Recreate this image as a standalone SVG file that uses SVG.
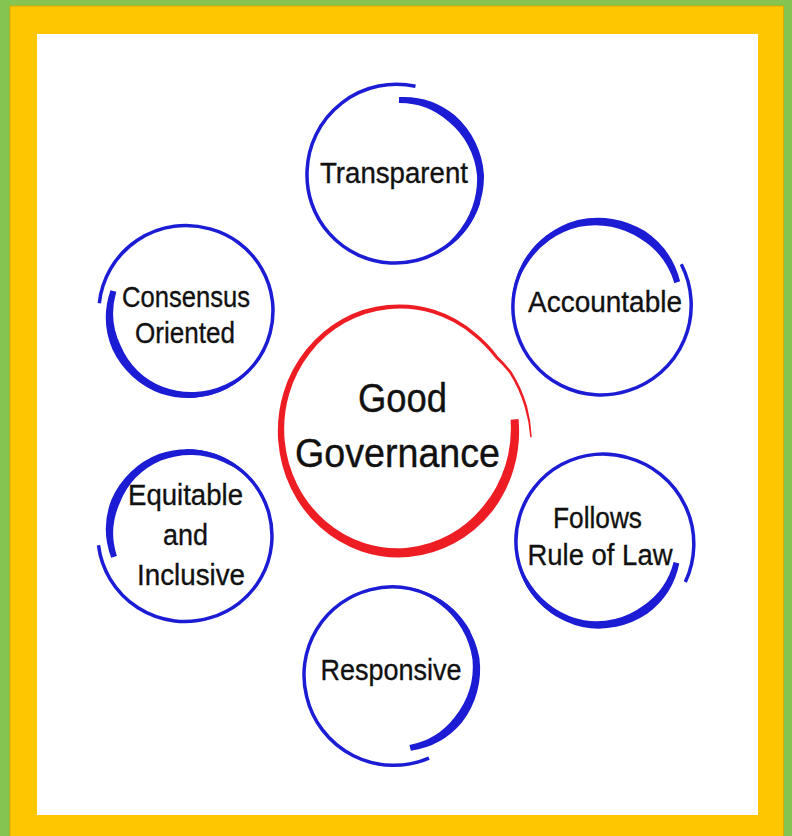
<svg xmlns="http://www.w3.org/2000/svg" width="792" height="836" viewBox="0 0 792 836">
<style>
.ring{fill:none;stroke:#1c1cd4;stroke-width:3.5}
.brush{fill:#1c1cd4}
.redb{fill:#ee1d23}
.lbl{font-family:"Liberation Sans",Arial,Helvetica,sans-serif;font-size:30px;fill:#111;stroke:#111;stroke-width:0.35;text-anchor:middle}
.big{font-family:"Liberation Sans",Arial,Helvetica,sans-serif;font-size:41px;fill:#111;stroke:#111;stroke-width:0.4;text-anchor:middle}
</style>
<rect x="0" y="0" width="792" height="836" fill="#84c450"/>
<rect x="10" y="6" width="773.5" height="832" fill="#fec600" stroke="#d9a900" stroke-width="1"/>
<rect x="37" y="34" width="721" height="781" fill="#ffffff"/>
<g id="connectors"/>
<g id="node-good-governance">
<path class="redb" transform="translate(398,430) scale(1,1.05)" d="M120.54,-10.55 A121.5 121.5 0 0 1 93.45,78.42 A121.8 121.8 0 0 1 10.59,121.04 A121.2 121.2 0 0 1 -77.78,92.69 A120.6 120.6 0 0 1 -119.79,10.49 A119.9 119.9 0 0 1 -91.54,-76.81 A119.5 119.5 0 0 1 -10.42,-119.05 A120 120 0 0 1 77.51,-92.31 A121.3 121.3 0 0 1 99.94,-69.98 A124.3 124.3 0 0 1 113.62,-55.42 A129 129 0 0 1 129.01,-22.75 A132.5 132.5 0 0 1 133.8,7.01 L132.3,6.93 A129.6 129.6 0 0 0 126.55,-22.31 A124.3 124.3 0 0 0 111.28,-54.27 A120.5 120.5 0 0 0 97.5,-68.27 A118.3 118.3 0 0 0 75.4,-89.86 A116.5 116.5 0 0 0 -10.07,-115.06 A115 115 0 0 0 -87.71,-73.6 A114 114 0 0 0 -113.32,9.92 A113.4 113.4 0 0 0 -72.64,86.56 A112.8 112.8 0 0 0 9.81,112.07 A112.3 112.3 0 0 0 85.79,71.99 A112.5 112.5 0 0 0 112.57,-9.85 Z"/>
<text class="big" x="402.5" y="412" textLength="89" lengthAdjust="spacingAndGlyphs">Good</text>
<text class="big" x="397.5" y="467" textLength="205" lengthAdjust="spacingAndGlyphs">Governance</text>
</g>
<g id="node-transparent">
<path class="ring" d="M415.5,86.3 A89.5 89.5 0 0 0 307.1,170.4 A88 88 0 0 0 390.4,262.9 A88 88 0 0 0 478.7,202.2"/>
<path class="brush" d="M399.1,97.1 A81 81 0 0 1 454.8,115.3 A87 87 0 0 1 484,175 A89.5 89.5 0 0 1 458.6,238.6 A89.4 89.4 0 0 1 410.4,262.5 A87 87 0 0 0 455.4,235.4 A83.7 83.7 0 0 0 477,175 A78.7 78.7 0 0 0 448.4,121.6 A73.7 73.7 0 0 0 398.8,103.1 Z"/>
<text class="lbl" x="394" y="183" textLength="148" lengthAdjust="spacingAndGlyphs">Transparent</text>
</g>
<g id="node-accountable">
<path class="ring" d="M681.3,264.3 A89.5 89.5 0 0 1 628.2,390.7 A88 88 0 0 1 517.3,334.2 A88 88 0 0 1 553.1,233.2"/>
<path class="brush" d="M680.1,281.3 A85.5 85.5 0 0 0 644.9,231.1 A89 89 0 0 0 577.7,220.1 A90 90 0 0 0 523.1,262 A89.4 89.4 0 0 0 512.5,314.7 A87 87 0 0 1 527,264.3 A84 84 0 0 1 579.5,226.8 A81 81 0 0 1 640.4,238.8 A78 78 0 0 1 674.4,283.2 Z"/>
<text class="lbl" x="605" y="312" textLength="154" lengthAdjust="spacingAndGlyphs">Accountable</text>
</g>
<g id="node-consensus-oriented">
<path class="ring" d="M99.3,303.2 A87 87 0 0 1 210,228.9 A85 85 0 0 1 270.1,333 A85 85 0 0 1 188,396"/>
<path class="brush" d="M110.5,290.2 A82.5 82.5 0 0 0 112.5,349.5 A86 86 0 0 0 161.1,393.7 A87 87 0 0 0 227.5,388.5 A86.4 86.4 0 0 0 263.8,351.3 A84 84 0 0 1 225.4,384.5 A81 81 0 0 1 163.3,387.1 A78 78 0 0 1 120.6,345.4 A75 75 0 0 1 116.3,291.8 Z"/>
<text class="lbl" x="186" y="307" textLength="128" lengthAdjust="spacingAndGlyphs">Consensus</text>
<text class="lbl" x="185" y="343" textLength="100" lengthAdjust="spacingAndGlyphs">Oriented</text>
</g>
<g id="node-equitable-inclusive">
<path class="ring" d="M98.5,545.3 A87 87 0 0 0 210.4,617.7 A85 85 0 0 0 268.7,512.6 A85 85 0 0 0 185.5,451"/>
<path class="brush" d="M111.2,557.7 A81.4 81.4 0 0 1 111.6,499.2 A85.3 85.3 0 0 1 158.8,454 A86.9 86.9 0 0 1 225.1,457.9 A86.4 86.4 0 0 1 262,494.4 A84 84 0 0 0 223.1,461.9 A81 81 0 0 0 161,460.6 A77.3 77.3 0 0 0 119.7,503.2 A73.9 73.9 0 0 0 116.9,556.1 Z"/>
<text class="lbl" x="185.5" y="505" textLength="115" lengthAdjust="spacingAndGlyphs">Equitable</text>
<text class="lbl" x="185.5" y="545" textLength="45" lengthAdjust="spacingAndGlyphs">and</text>
<text class="lbl" x="191" y="585" textLength="108" lengthAdjust="spacingAndGlyphs">Inclusive</text>
</g>
<g id="node-follows-rule-of-law">
<path class="ring" d="M685.3,582.1 A89.5 89.5 0 0 0 627.7,457.6 A87 87 0 0 0 519.6,516.3 A87 87 0 0 0 557.5,615.2"/>
<path class="brush" d="M679.3,563.6 A82.3 82.3 0 0 1 647.5,613.6 A86.8 86.8 0 0 1 582.3,627.1 A88.7 88.7 0 0 1 527.2,587.5 A88.4 88.4 0 0 1 515.4,535.6 A86 86 0 0 0 531,585.1 A83 83 0 0 0 584,620.3 A78.8 78.8 0 0 0 642.8,605.9 A74.8 74.8 0 0 0 673.6,561.9 Z"/>
<text class="lbl" x="597.5" y="528" textLength="89" lengthAdjust="spacingAndGlyphs">Follows</text>
<text class="lbl" x="600" y="565" textLength="145" lengthAdjust="spacingAndGlyphs">Rule of Law</text>
</g>
<g id="node-responsive">
<path class="ring" d="M429,758.1 A89.5 89.5 0 0 1 306.6,696.3 A88 88 0 0 1 370.7,589.6 A88 88 0 0 1 469,632.3"/>
<path class="brush" d="M410.9,750.7 A81 81 0 0 0 462.1,722.3 A87 87 0 0 0 479.4,658 A89.5 89.5 0 0 0 442.3,600.4 A89.4 89.4 0 0 0 390.4,586.2 A87 87 0 0 1 439.8,604.2 A83.7 83.7 0 0 1 472.5,659.4 A78.7 78.7 0 0 1 454.6,717.2 A73.7 73.7 0 0 1 409.4,744.9 Z"/>
<text class="lbl" x="391" y="680" textLength="141" lengthAdjust="spacingAndGlyphs">Responsive</text>
</g>
</svg>
